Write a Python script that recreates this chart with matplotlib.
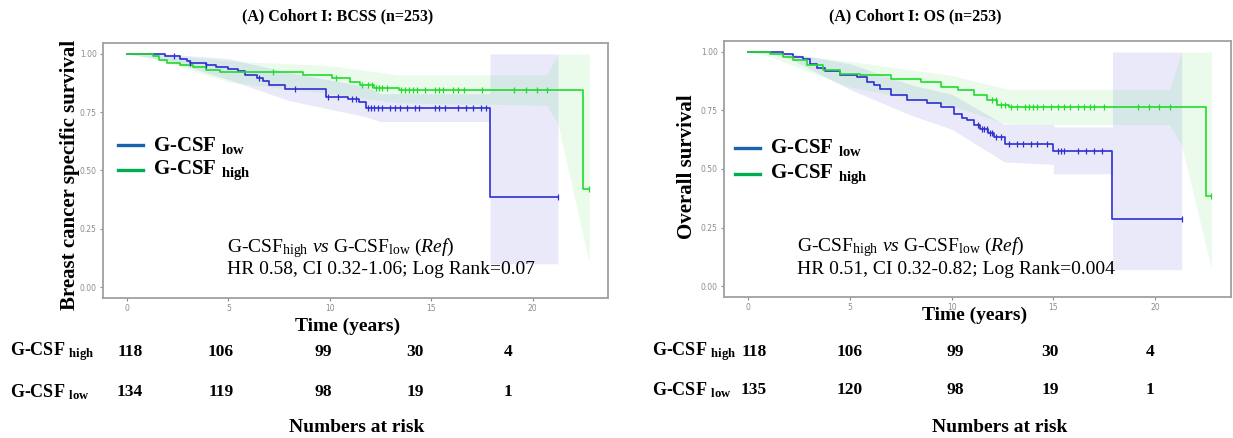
import numpy as np
import matplotlib
matplotlib.use("Agg")
import matplotlib.pyplot as plt

plt.rcParams['mathtext.fontset'] = 'custom'
plt.rcParams['mathtext.rm'] = 'Liberation Serif'
plt.rcParams['mathtext.it'] = 'Liberation Serif:italic'
plt.rcParams['mathtext.bf'] = 'Liberation Serif:bold'

SERIF = 'Liberation Serif'

# ---------------- data ----------------
titles = ["(A) Cohort I: BCSS (n=253)", "(A) Cohort I: OS (n=253)"]
ylabels = ["Breast cancer specific survival", "Overall survival"]
xticks = [0, 5, 10, 15, 20]
yticks = [0.00, 0.25, 0.50, 0.75, 1.00]
ytick_labels = ["0.00", "0.25", "0.50", "0.75", "1.00"]

# BCSS, G-CSF low
bcss_low_t = [0, 1.9, 2.6, 2.94, 3.1, 3.9, 4.4, 5.0, 5.5, 5.8, 6.4, 6.7, 7.0, 7.8, 9.8, 10.9, 11.45, 11.8, 17.9]
bcss_low_s = [1.0, 0.99, 0.98, 0.97, 0.96, 0.952, 0.945, 0.937, 0.926, 0.91, 0.897, 0.883, 0.866, 0.849, 0.815, 0.808, 0.795, 0.766, 0.385]
bcss_low_end = 21.25
bcss_low_cens = [2.3, 3.1, 3.9, 6.5, 8.3, 9.9, 10.4, 11.1, 11.3, 11.9, 12.05, 12.2, 12.38, 12.6, 12.95,
                 13.2, 13.45, 13.8, 14.2, 14.4, 15.17, 15.4, 15.67, 16.32, 16.73, 17.06, 17.47, 17.7, 21.25]
bcss_low_ci_t = [0, 1.9, 5.0, 8.0, 11.8, 12.5, 17.9, 17.9, 21.25]
bcss_low_ci_lo = [1.0, 0.975, 0.89, 0.80, 0.73, 0.71, 0.71, 0.10, 0.10]
bcss_low_ci_hi = [1.0, 1.0, 0.98, 0.92, 0.86, 0.83, 0.83, 1.0, 1.0]

# BCSS, G-CSF high
bcss_high_t = [0, 1.3, 1.6, 2.0, 2.6, 3.25, 3.9, 4.6, 8.7, 10.1, 11.0, 11.5, 12.2, 13.4, 22.5]
bcss_high_s = [1.0, 0.99, 0.974, 0.96, 0.952, 0.944, 0.93, 0.923, 0.91, 0.896, 0.88, 0.866, 0.855, 0.845, 0.42]
bcss_high_end = 22.8
bcss_high_cens = [7.2, 10.3, 11.6, 11.9, 12.1, 12.3, 12.45, 12.6, 12.8, 13.5, 13.7, 13.9, 14.1, 14.3, 14.7,
                  15.2, 15.4, 15.6, 16.1, 16.3, 16.6, 17.5, 19.1, 19.7, 20.2, 20.7, 22.8]
bcss_high_ci_t = [0, 1.3, 5.0, 10.0, 13.4, 20.7, 21.25, 22.8]
bcss_high_ci_lo = [1.0, 0.98, 0.88, 0.83, 0.79, 0.78, 0.70, 0.10]
bcss_high_ci_hi = [1.0, 1.0, 0.97, 0.95, 0.91, 0.91, 1.0, 1.0]

# OS, G-CSF low
os_low_t = [0, 1.74, 2.2, 2.7, 3.05, 3.4, 3.8, 4.5, 5.35, 5.85, 6.2, 6.5, 7.0, 7.8, 8.8, 9.46, 10.1, 10.5,
            10.77, 11.1, 11.4, 11.8, 12.1, 12.6, 15.0, 17.9]
os_low_s = [1.0, 0.99, 0.98, 0.97, 0.95, 0.93, 0.92, 0.90, 0.893, 0.871, 0.857, 0.843, 0.815, 0.794, 0.78,
            0.765, 0.736, 0.72, 0.708, 0.69, 0.672, 0.655, 0.637, 0.608, 0.579, 0.286]
os_low_end = 21.3
os_low_cens = [11.3, 11.5, 11.6, 11.75, 11.9, 12.0, 12.2, 12.4, 12.8, 13.2, 13.5, 13.9, 14.2, 14.7,
               15.2, 15.35, 15.5, 16.2, 16.6, 17.0, 17.4, 21.3]
os_low_ci_t = [0, 1.74, 5.0, 8.0, 10.0, 12.6, 15.0, 15.0, 17.9, 17.9, 21.3]
os_low_ci_lo = [1.0, 0.985, 0.84, 0.73, 0.67, 0.53, 0.52, 0.48, 0.48, 0.07, 0.07]
os_low_ci_hi = [1.0, 1.0, 0.95, 0.86, 0.82, 0.69, 0.69, 0.68, 0.68, 1.0, 1.0]

# OS, G-CSF high
os_high_t = [0, 1.08, 1.7, 2.2, 2.9, 3.7, 4.5, 5.5, 7.0, 8.5, 9.46, 10.3, 11.1, 11.76, 12.25, 12.8, 22.5]
os_high_s = [1.0, 0.99, 0.979, 0.964, 0.943, 0.921, 0.907, 0.90, 0.886, 0.871, 0.85, 0.836, 0.815, 0.794,
             0.772, 0.765, 0.386]
os_high_end = 22.76
os_high_cens = [12.0, 12.2, 12.4, 12.6, 12.9, 13.2, 13.6, 13.8, 14.0, 14.2, 14.5, 14.9, 15.2, 15.5, 15.8,
                16.2, 16.5, 16.8, 17.0, 17.5, 19.15, 19.7, 20.2, 20.7, 22.76]
os_high_ci_t = [0, 1.08, 5.0, 10.0, 12.8, 20.7, 21.3, 22.76]
os_high_ci_lo = [1.0, 0.98, 0.85, 0.77, 0.69, 0.69, 0.60, 0.07]
os_high_ci_hi = [1.0, 1.0, 0.96, 0.90, 0.84, 0.84, 1.0, 1.0]

# Numbers at risk
risk_high = [[118, 106, 99, 30, 4], [118, 106, 99, 30, 4]]
risk_low = [[134, 119, 98, 19, 1], [135, 120, 98, 19, 1]]

hr_text = ["HR 0.58, CI 0.32-1.06; Log Rank=0.07", "HR 0.51, CI 0.32-0.82; Log Rank=0.004"]

# ---------------- styling ----------------
W, H = 1233, 438
BLUE = "#2e2ed2"
GREEN = "#1fdc2a"
LEG_BLUE = "#1a63b0"
LEG_GREEN = "#00ad50"

fig = plt.figure(figsize=(W / 100, H / 100), dpi=100)


def fx(x):
    return x / W


def fy(y):
    return 1 - y / H


panels = [
    dict(rect=[103, 43, 608, 298], low=(bcss_low_t, bcss_low_s, bcss_low_end, bcss_low_cens,
                                         bcss_low_ci_t, bcss_low_ci_lo, bcss_low_ci_hi),
         high=(bcss_high_t, bcss_high_s, bcss_high_end, bcss_high_cens,
               bcss_high_ci_t, bcss_high_ci_lo, bcss_high_ci_hi),
         title_xy=(338, 16), ylab_xy=(70, 175), leg_x=118, leg_y=(145, 170), ann_xy=(227, 248),
         time_xy=(348, 326), row_y=(352, 392), row_lab_x=10, num_x=[130, 221, 323, 415, 508],
         nar_xy=(357, 428)),
    dict(rect=[724, 41, 1231, 297], low=(os_low_t, os_low_s, os_low_end, os_low_cens,
                                          os_low_ci_t, os_low_ci_lo, os_low_ci_hi),
         high=(os_high_t, os_high_s, os_high_end, os_high_cens,
               os_high_ci_t, os_high_ci_lo, os_high_ci_hi),
         title_xy=(915, 16), ylab_xy=(687, 167), leg_x=735, leg_y=(148, 174), ann_xy=(797, 247),
         time_xy=(975, 315), row_y=(352, 390), row_lab_x=652, num_x=[754, 850, 955, 1050, 1150],
         nar_xy=(1000, 428)),
]

for i, p in enumerate(panels):
    x0, y0, x1, y1 = p['rect']
    ax = fig.add_axes([fx(x0), fy(y1), (x1 - x0) / W, (y1 - y0) / H])
    ax.set_xlim(-1.18, 23.72)
    ax.set_ylim(-0.047, 1.047)
    for sp in ax.spines.values():
        sp.set_color("#a0a0a0")
        sp.set_linewidth(1.3)
    ax.set_xticks(xticks)
    ax.set_xticklabels([str(v) for v in xticks])
    ax.set_yticks(yticks)
    ax.set_yticklabels(ytick_labels)
    ax.tick_params(labelsize=5.5, colors="#8c8c8c", length=2.5, width=0.8, pad=2)

    for key, col, a in (("low", BLUE, 0.10), ("high", GREEN, 0.09)):
        t, s, end, cens, ct, clo, chi = p[key]
        ax.fill_between(ct, clo, chi, color=col, alpha=a, lw=0, zorder=1)
    for key, col in (("low", BLUE), ("high", GREEN)):
        t, s, end, cens, ct, clo, chi = p[key]
        tt = list(t) + [end]
        ss = list(s) + [s[-1]]
        ax.step(tt, ss, where='post', color=col, lw=1.2, zorder=3)
        idx = np.searchsorted(np.array(t), np.array(cens), side='right') - 1
        cs = np.array(s)[idx]
        ax.plot(cens, cs, ls='none', marker='|', ms=5, mew=0.9, color=col, zorder=4)

    # title
    fig.text(fx(p['title_xy'][0]), fy(p['title_xy'][1]), titles[i], family=SERIF, weight='bold',
             fontsize=11.5, ha='center', va='center')
    # y label
    fig.text(fx(p['ylab_xy'][0]), fy(p['ylab_xy'][1]), ylabels[i], family=SERIF, weight='bold',
             fontsize=15, rotation=90, ha='center', va='center')
    # legend
    lx = p['leg_x']
    for (ly, col, lab) in ((p['leg_y'][0], LEG_BLUE, "low"), (p['leg_y'][1], LEG_GREEN, "high")):
        fig.add_artist(plt.Line2D([fx(lx), fx(lx + 25)], [fy(ly), fy(ly)], color=col, lw=2.4,
                                  transform=fig.transFigure))
        fig.text(fx(lx + 35), fy(ly), r"G-CSF $_{\mathregular{%s}}$" % lab, family=SERIF,
                 weight='bold', fontsize=15, ha='left', va='center')
    # annotation
    axx, ayy = p['ann_xy']
    fig.text(fx(axx), fy(ayy),
             r"G-CSF$_{\mathregular{high}}$ $\mathit{vs}$ G-CSF$_{\mathregular{low}}$ ($\mathit{Ref}$)",
             family=SERIF, fontsize=14, ha='left', va='center')
    fig.text(fx(axx), fy(ayy + 22), hr_text[i], family=SERIF, fontsize=14, ha='left', va='center')
    # x label
    fig.text(fx(p['time_xy'][0]), fy(p['time_xy'][1]), "Time (years)", family=SERIF, weight='bold',
             fontsize=14, ha='center', va='center')
    # numbers at risk
    for (ry, lab, vals) in ((p['row_y'][0], "high", risk_high[i]), (p['row_y'][1], "low", risk_low[i])):
        fig.text(fx(p['row_lab_x']), fy(ry), r"G-CSF $_{\mathregular{%s}}$" % lab, family=SERIF,
                 weight='bold', fontsize=13, ha='left', va='center')
        for xv, v in zip(p['num_x'], vals):
            fig.text(fx(xv), fy(ry), str(v), family=SERIF, weight='bold', fontsize=12.5,
                     ha='center', va='center')
    fig.text(fx(p['nar_xy'][0]), fy(p['nar_xy'][1]), "Numbers at risk", family=SERIF, weight='bold',
             fontsize=14, ha='center', va='center')

fig.savefig("out.png", dpi=100)
